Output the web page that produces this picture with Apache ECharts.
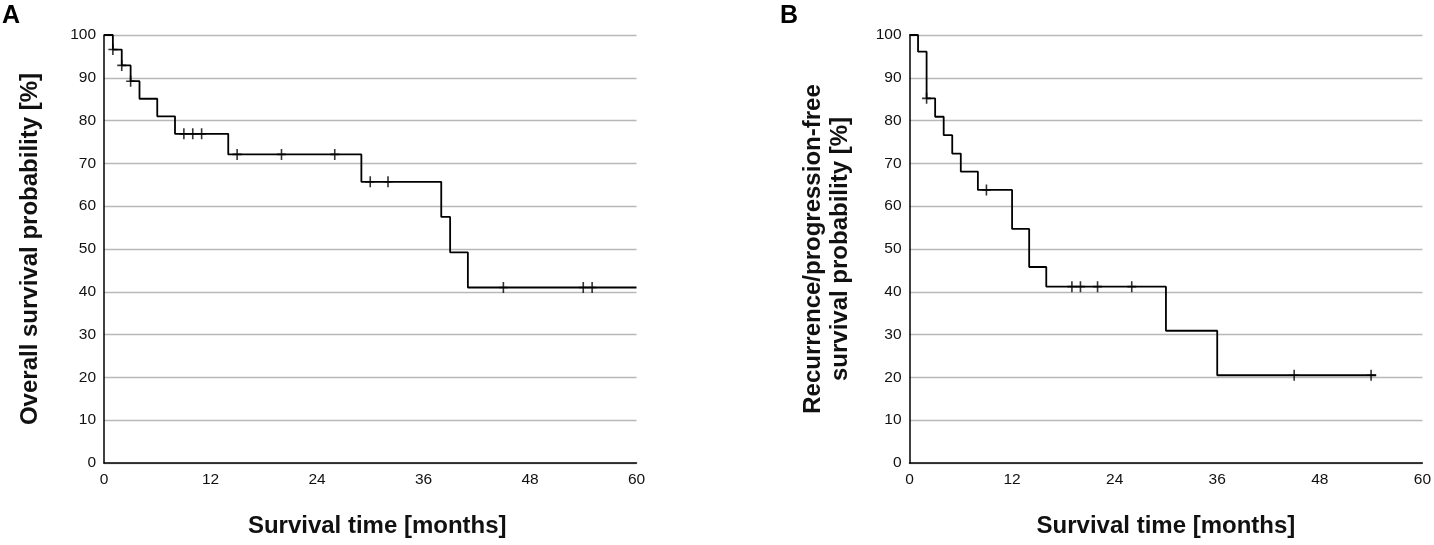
<!DOCTYPE html>
<html>
<head>
<meta charset="utf-8">
<script src="https://cdn.jsdelivr.net/npm/echarts@6/dist/echarts.min.js"></script>
<style>
html,body{margin:0;padding:0;background:#fff;}
#chart{width:1434px;height:545px;}
</style>
</head>
<body>
<div id="chart"></div>
<script>
// Panel A: overall survival (Kaplan-Meier steps)
var timesA = [0, 1, 2, 3, 4, 6, 8, 14, 29, 38, 39, 41, 60];
var survA  = [100, 96.6, 92.9, 89.2, 85.1, 81.0, 76.9, 72.1, 65.7, 57.5, 49.2, 41.0, 41.0];
var censorA = [1, 2, 3, 9, 10, 11, 15, 20, 26, 30, 32, 45, 54, 55];

// Panel B: recurrence/progression-free survival
var timesB = [0, 1, 2, 3, 4, 5, 6, 8, 12, 14, 16, 30, 36, 54.6];
var survB  = [100, 96.1, 85.2, 80.9, 76.6, 72.3, 68.1, 63.8, 54.7, 45.8, 41.2, 30.9, 20.5, 20.5];
var censorB = [2, 9, 19, 20, 22, 26, 45, 54];

var xTicks = [0, 12, 24, 36, 48, 60];
var yTicks = [0, 10, 20, 30, 40, 50, 60, 70, 80, 90, 100];

function stepAt(times, vals, t) {
  var v = vals[0];
  for (var i = 0; i < times.length; i++) { if (times[i] <= t) v = vals[i]; }
  return v;
}
function pairs(times, vals) { return times.map(function (t, i) { return [t, vals[i]]; }); }
function censorPts(c, times, vals) { return c.map(function (t) { return [t, stepAt(times, vals, t)]; }); }

var FONT = 'Liberation Sans, Arial, sans-serif';
var plus = 'path://M-0.8,-5.5H0.8V-0.8H4.5V0.8H0.8V5.5H-0.8V0.8H-4.5V-0.8H-0.8Z';

function xAxis(idx, shift) {
  return {
    type: 'value', gridIndex: idx, min: 0, max: 60, interval: 12,
    name: 'Survival time [months]', nameLocation: 'middle', nameGap: 51,
    nameTextStyle: { fontFamily: FONT, fontSize: 24, fontWeight: 'bold', color: '#111',
      padding: [0, 0, 0, shift] },
    axisLine: { lineStyle: { color: '#000', width: 1.5 } },
    axisTick: { show: false },
    splitLine: { show: false },
    axisLabel: { fontFamily: FONT, fontSize: 15.5, color: '#111', margin: 9,
      formatter: function (v) { return xTicks.indexOf(v) >= 0 ? String(v) : ''; } }
  };
}
function yAxis(idx, name, gap) {
  return {
    type: 'value', gridIndex: idx, min: 0, max: 100, interval: 10,
    name: name, nameLocation: 'middle', nameGap: gap,
    nameTextStyle: { fontFamily: FONT, fontSize: 24, fontWeight: 'bold', color: '#111', lineHeight: 27 },
    axisLine: { show: true, lineStyle: { color: '#000', width: 1.5 } },
    axisTick: { show: false },
    splitLine: { show: true, lineStyle: { color: '#b8b8b8', width: 1.3 } },
    axisLabel: { fontFamily: FONT, fontSize: 15.5, color: '#111', margin: 8,
      formatter: function (v) { return yTicks.indexOf(v) >= 0 ? String(v) : ''; } }
  };
}

var chart = echarts.init(document.getElementById('chart'));
chart.setOption({
  animation: false,
  backgroundColor: '#fff',
  grid: [
    { left: 104, top: 35, width: 532.5, height: 428 },
    { left: 909.5, top: 35, width: 513.5, height: 428 }
  ],
  xAxis: [xAxis(0, 14), xAxis(1, 0)],
  yAxis: [
    yAxis(0, 'Overall survival probability [%]', 60),
    yAxis(1, 'Recurrence/progression-free\nsurvival probability [%]', 56)
  ],
  graphic: [
    { type: 'text', left: 2, top: 4, style: { text: 'A', font: 'bold 25px ' + FONT, fill: '#000' } },
    { type: 'text', left: 780, top: 4, style: { text: 'B', font: 'bold 25px ' + FONT, fill: '#000' } }
  ],
  series: [
    { type: 'line', xAxisIndex: 0, yAxisIndex: 0, step: 'end', data: pairs(timesA, survA),
      showSymbol: false, lineStyle: { color: '#000', width: 1.8 }, z: 3 },
    { type: 'scatter', xAxisIndex: 0, yAxisIndex: 0, data: censorPts(censorA, timesA, survA),
      symbol: plus, symbolSize: [9, 11], itemStyle: { color: '#000' }, z: 4 },
    { type: 'line', xAxisIndex: 1, yAxisIndex: 1, step: 'end', data: pairs(timesB, survB),
      showSymbol: false, lineStyle: { color: '#000', width: 1.8 }, z: 3 },
    { type: 'scatter', xAxisIndex: 1, yAxisIndex: 1, data: censorPts(censorB, timesB, survB),
      symbol: plus, symbolSize: [9, 11], itemStyle: { color: '#000' }, z: 4 }
  ]
});
</script>
</body>
</html>
